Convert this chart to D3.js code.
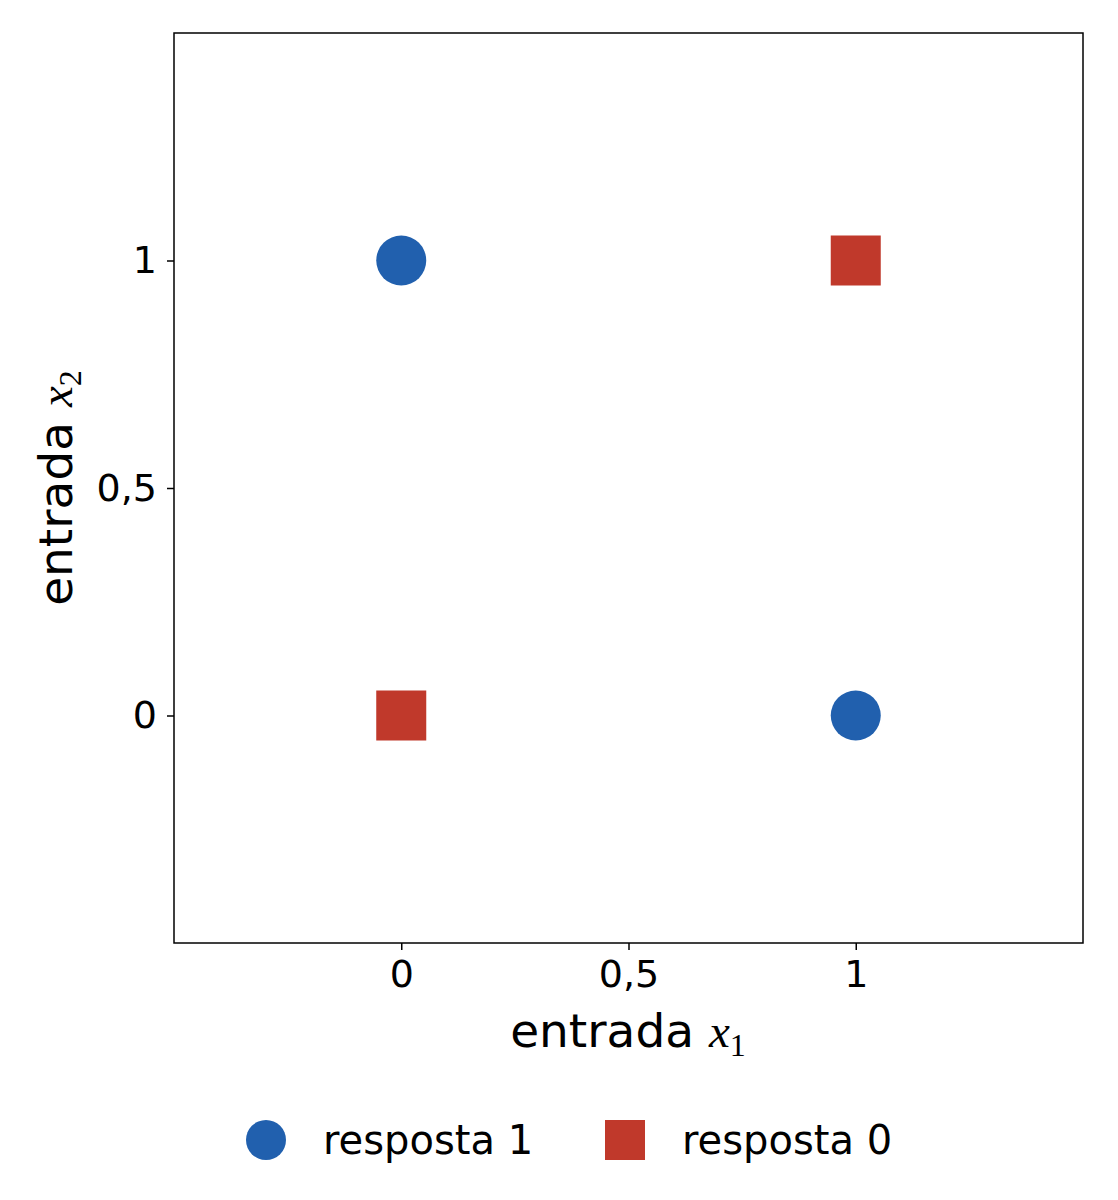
<!DOCTYPE html>
<html><head><meta charset="utf-8">
<script src="https://cdn.jsdelivr.net/npm/d3@7"></script>
<style>body{margin:0;background:#fff}</style></head>
<body><svg id="c" width="1118" height="1200"></svg>
<script>
const xTicks=[0,0.5,1];
const yTicks=[0,0.5,1];
const tickLabels=["0","0,5","1"];
const resp1X=[0,1], resp1Y=[1,0];
const resp0X=[1,0], resp0Y=[1,0];
const svg=d3.select("#c");
const x=d3.scaleLinear().domain([-0.5,1.5]).range([174,1083]);
const y=d3.scaleLinear().domain([-0.5,1.5]).range([943,33]);
const font="DejaVu Sans";
svg.append("rect").attr("x",174).attr("y",33).attr("width",909).attr("height",910).attr("fill","none").attr("stroke","#000").attr("stroke-width",1.5);
const fmt=d=>tickLabels[xTicks.indexOf(d)];
const ax=svg.append("g").attr("transform","translate(0,943)").call(d3.axisBottom(x).tickValues(xTicks).tickFormat(fmt).tickSize(7).tickPadding(10));
const ay=svg.append("g").attr("transform","translate(174,0)").call(d3.axisLeft(y).tickValues(yTicks).tickFormat(fmt).tickSize(7).tickPadding(10));
[ax,ay].forEach(a=>{a.select(".domain").remove();a.selectAll("line").attr("stroke-width",1.5);a.selectAll("text").attr("font-family",font).attr("font-size",38).attr("fill","#000");});
const xl=svg.append("text").attr("x",628).attr("y",1047).attr("text-anchor","middle").attr("font-family",font).attr("font-size",47);
xl.append("tspan").text("entrada ");
xl.append("tspan").attr("font-family","Liberation Serif").attr("font-style","italic").text("x");
xl.append("tspan").attr("font-family","Liberation Serif").attr("font-size",32).attr("dy",9).text("1");
const yl=svg.append("text").attr("transform","translate(72,488) rotate(-90)").attr("text-anchor","middle").attr("font-family",font).attr("font-size",47);
yl.append("tspan").text("entrada ");
yl.append("tspan").attr("font-family","Liberation Serif").attr("font-style","italic").text("x");
yl.append("tspan").attr("font-family","Liberation Serif").attr("font-size",32).attr("dy",9).text("2");
const blue="#2160ae", red="#c0392b";
svg.selectAll(".c").data(resp1X).enter().append("circle").attr("cx",d=>x(d)).attr("cy",(d,i)=>y(resp1Y[i])).attr("r",25).attr("fill",blue);
svg.selectAll(".s").data(resp0X).enter().append("rect").attr("x",d=>x(d)-25).attr("y",(d,i)=>y(resp0Y[i])-25).attr("width",50).attr("height",50).attr("fill",red);
svg.append("circle").attr("cx",266).attr("cy",1140).attr("r",20).attr("fill",blue);
svg.append("text").attr("x",323).attr("y",1154).attr("font-family",font).attr("font-size",40).text("resposta 1");
svg.append("rect").attr("x",605).attr("y",1120).attr("width",40).attr("height",40).attr("fill",red);
svg.append("text").attr("x",682).attr("y",1154).attr("font-family",font).attr("font-size",40).text("resposta 0");
</script></body></html>
